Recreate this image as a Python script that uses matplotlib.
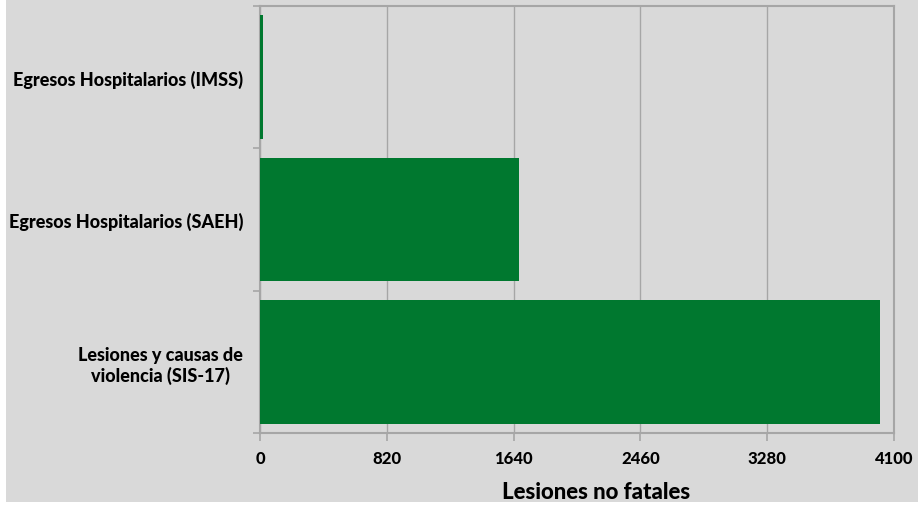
import matplotlib.pyplot as plt
from matplotlib.patches import Rectangle

# Datos
categorias = ['Lesiones y causas de\nviolencia (SIS-17)',
              'Egresos Hospitalarios (SAEH)',
              'Egresos Hospitalarios (IMSS)']
valores = [4010, 1675, 20]
ticks_x = [0, 820, 1640, 2460, 3280, 4100]

GRIS = '#d9d9d9'
VERDE = '#00782f'
LINEA = '#a6a6a6'

plt.rcParams['font.family'] = ['Lato', 'DejaVu Sans']
PESO = 'black'

fig = plt.figure(figsize=(9.18, 5.06), dpi=100, facecolor='white')
# fondo gris con franja blanca a la izquierda y abajo
fig.patches.append(Rectangle((6 / 918, 3 / 506), 1, 1, transform=fig.transFigure,
                             facecolor=GRIS, edgecolor='none', zorder=-10))

ax = fig.add_axes([260 / 918, 1 - 434 / 506, 634 / 918, 427 / 506])
ax.set_facecolor(GRIS)

ax.barh(range(len(categorias)), valores, height=0.87, color=VERDE, zorder=3)

ax.set_xlim(0, 4100)
ax.set_ylim(-0.5, 2.5)
ax.set_xticks(ticks_x)
ax.set_xticklabels([str(t) for t in ticks_x], fontsize=12, fontweight=PESO)
ax.set_yticks([-0.5, 0.5, 1.5, 2.5], minor=False)
ax.set_yticklabels([])
ax.set_yticks(range(len(categorias)), minor=True)
ax.set_yticklabels(categorias, minor=True, fontsize=13, fontweight=PESO,
                   ha='right', multialignment='center')
ax.tick_params(axis='y', which='minor', length=0, pad=12)
ax.tick_params(axis='y', which='major', length=5, color=LINEA, width=1.2)
ax.tick_params(axis='x', length=6, color=LINEA, width=1.2, pad=6)

ax.grid(axis='x', color=LINEA, linewidth=1, zorder=1)
for s in ax.spines.values():
    s.set_color(LINEA)
    s.set_linewidth(1.5)

ax.set_xlabel('Lesiones no fatales', fontsize=16, fontweight=PESO)
ax.xaxis.set_label_coords(0.53, -0.113)

fig.savefig('out.png', dpi=100, facecolor='white')
